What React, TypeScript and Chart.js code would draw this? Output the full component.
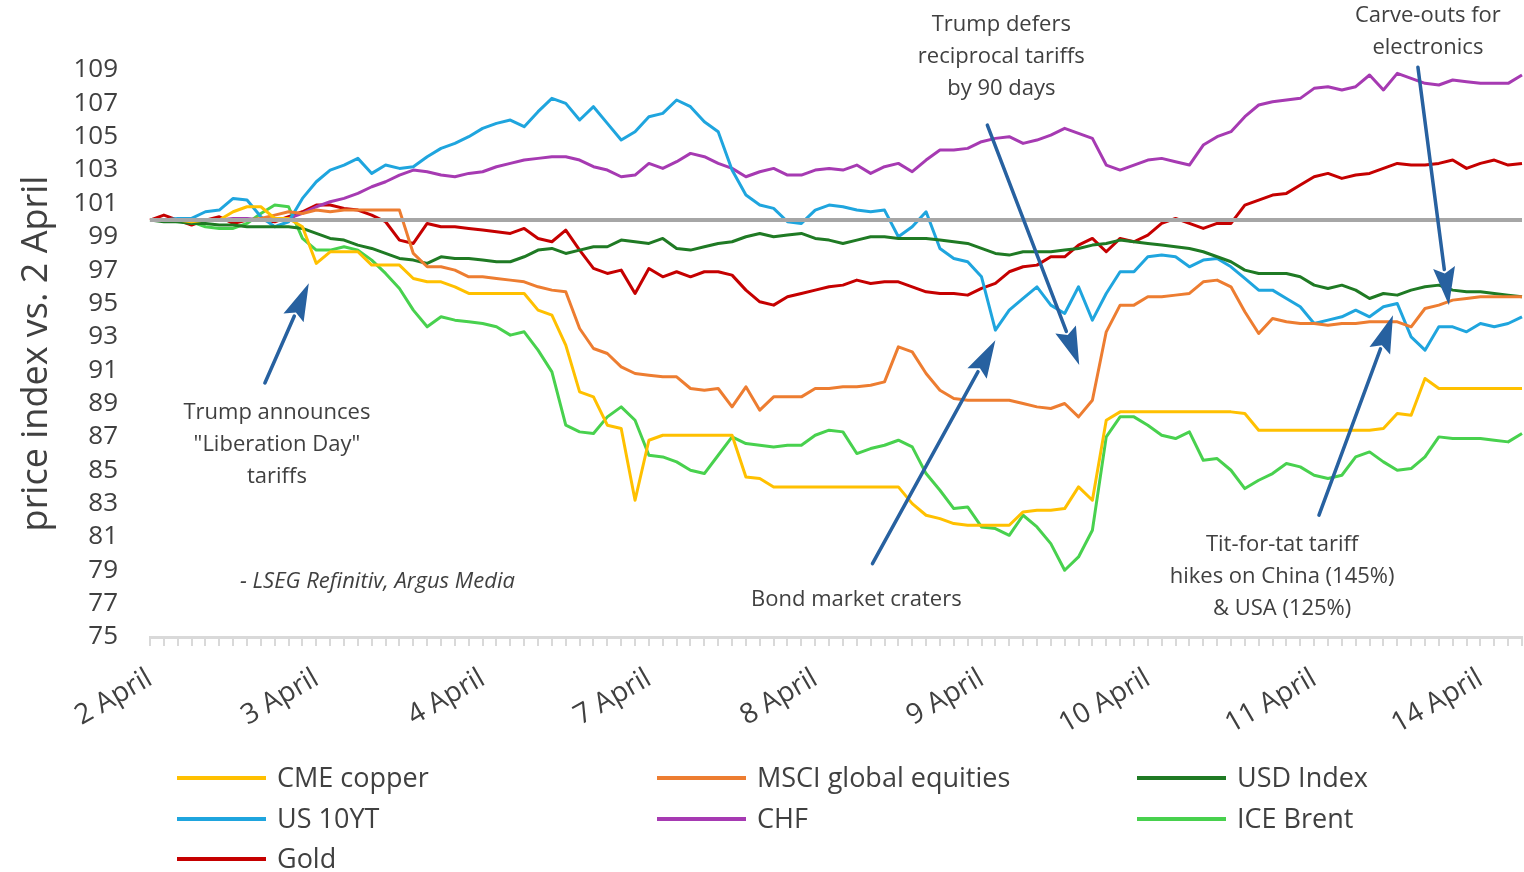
import React, { useEffect, useRef } from "react";
import { Chart, registerables } from "chart.js";

Chart.register(...registerables);

const FONT = '"Open Sans", "Noto Sans", sans-serif';
const TEXT_COLOR = "#404040";

// ---- categories ----
const DAY_LABELS = ["2 April", "3 April", "4 April", "7 April", "8 April", "9 April", "10 April", "11 April", "14 April"];
const POINTS_PER_DAY = 12;
const N_POINTS = 100;
const CATEGORIES: string[] = Array.from({ length: N_POINTS }, (_, i) =>
  i % POINTS_PER_DAY === 0 && DAY_LABELS[i / POINTS_PER_DAY] ? DAY_LABELS[i / POINTS_PER_DAY] : ""
);

// ---- series (price index vs. 2 April = 100) ----
const CME_COPPER = [
  100, 100, 100, 99.9, 100, 100, 100.5, 100.8, 100.8, 100.1, 100.1, 99.6,
  97.4, 98.1, 98.1, 98.1, 97.3, 97.3, 97.3, 96.5, 96.3, 96.3, 96.0, 95.6,
  95.6, 95.6, 95.6, 95.6, 94.6, 94.3, 92.5, 89.7, 89.4, 87.7, 87.5, 83.2,
  86.8, 87.1, 87.1, 87.1, 87.1, 87.1, 87.1, 84.6, 84.5, 84.0, 84.0, 84.0,
  84.0, 84.0, 84.0, 84.0, 84.0, 84.0, 84.0, 83.0, 82.3, 82.1, 81.8, 81.7,
  81.7, 81.7, 81.7, 82.5, 82.6, 82.6, 82.7, 84.0, 83.2, 88.0, 88.5, 88.5,
  88.5, 88.5, 88.5, 88.5, 88.5, 88.5, 88.5, 88.4, 87.4, 87.4, 87.4, 87.4,
  87.4, 87.4, 87.4, 87.4, 87.4, 87.5, 88.4, 88.3, 90.5, 89.9, 89.9, 89.9,
  89.9, 89.9, 89.9, 89.9,
];
const MSCI_EQUITIES = [
  100, 100, 100, 100, 100, 100, 100, 100, 100.1, 100.3, 100.5, 100.4,
  100.6, 100.5, 100.6, 100.6, 100.6, 100.6, 100.6, 98.0, 97.2, 97.2, 97.0, 96.6,
  96.6, 96.5, 96.4, 96.3, 96.0, 95.8, 95.7, 93.5, 92.3, 92.0, 91.2, 90.8,
  90.7, 90.6, 90.6, 89.9, 89.8, 89.9, 88.8, 90.0, 88.6, 89.4, 89.4, 89.4,
  89.9, 89.9, 90.0, 90.0, 90.1, 90.3, 92.4, 92.1, 90.8, 89.8, 89.3, 89.2,
  89.2, 89.2, 89.2, 89.0, 88.8, 88.7, 89.0, 88.2, 89.2, 93.3, 94.9, 94.9,
  95.4, 95.4, 95.5, 95.6, 96.3, 96.4, 96.0, 94.5, 93.2, 94.1, 93.9, 93.8,
  93.8, 93.7, 93.8, 93.8, 93.9, 93.9, 93.9, 93.6, 94.7, 94.9, 95.2, 95.3,
  95.4, 95.4, 95.4, 95.4,
];
const USD_INDEX = [
  100, 99.9, 99.9, 99.8, 99.8, 99.7, 99.7, 99.6, 99.6, 99.6, 99.6, 99.5,
  99.2, 98.9, 98.8, 98.5, 98.3, 98.0, 97.7, 97.6, 97.4, 97.8, 97.7, 97.7,
  97.6, 97.5, 97.5, 97.8, 98.2, 98.3, 98.0, 98.2, 98.4, 98.4, 98.8, 98.7,
  98.6, 98.9, 98.3, 98.2, 98.4, 98.6, 98.7, 99.0, 99.2, 99.0, 99.1, 99.2,
  98.9, 98.8, 98.6, 98.8, 99.0, 99.0, 98.9, 98.9, 98.9, 98.8, 98.7, 98.6,
  98.3, 98.0, 97.9, 98.1, 98.1, 98.1, 98.2, 98.3, 98.5, 98.6, 98.8, 98.7,
  98.6, 98.5, 98.4, 98.3, 98.1, 97.8, 97.5, 97.0, 96.8, 96.8, 96.8, 96.6,
  96.1, 95.9, 96.1, 95.8, 95.3, 95.6, 95.5, 95.8, 96.0, 96.1, 95.8, 95.7,
  95.7, 95.6, 95.5, 95.4,
];
const US_10YT = [
  100, 100, 100.1, 100.1, 100.5, 100.6, 101.3, 101.2, 100.2, 99.6, 99.9, 101.3,
  102.3, 103.0, 103.3, 103.7, 102.8, 103.3, 103.1, 103.2, 103.8, 104.3, 104.6, 105.0,
  105.5, 105.8, 106.0, 105.6, 106.5, 107.3, 107.0, 106.0, 106.8, 105.8, 104.8, 105.3,
  106.2, 106.4, 107.2, 106.8, 105.9, 105.3, 103.0, 101.5, 100.9, 100.7, 99.9, 99.8,
  100.6, 100.9, 100.8, 100.6, 100.5, 100.6, 99.0, 99.6, 100.5, 98.3, 97.7, 97.5,
  96.6, 93.4, 94.6, 95.3, 96.0, 94.9, 94.4, 96.0, 94.0, 95.6, 96.9, 96.9,
  97.8, 97.9, 97.8, 97.2, 97.6, 97.7, 97.2, 96.5, 95.8, 95.8, 95.3, 94.8,
  93.8, 94.0, 94.2, 94.6, 94.2, 94.8, 95.0, 93.0, 92.2, 93.6, 93.6, 93.3,
  93.8, 93.6, 93.8, 94.2,
];
const CHF = [
  100, 100, 100, 99.9, 100, 100, 100.1, 100.1, 100.0, 100.1, 100.1, 100.4,
  100.8, 101.1, 101.3, 101.6, 102.0, 102.3, 102.7, 103.0, 102.9, 102.7, 102.6, 102.8,
  102.9, 103.2, 103.4, 103.6, 103.7, 103.8, 103.8, 103.6, 103.2, 103.0, 102.6, 102.7,
  103.4, 103.1, 103.5, 104.0, 103.8, 103.4, 103.1, 102.6, 102.9, 103.1, 102.7, 102.7,
  103.0, 103.1, 103.0, 103.3, 102.8, 103.2, 103.4, 102.9, 103.6, 104.2, 104.2, 104.3,
  104.7, 104.9, 105.0, 104.6, 104.8, 105.1, 105.5, 105.2, 104.9, 103.3, 103.0, 103.3,
  103.6, 103.7, 103.5, 103.3, 104.5, 105.0, 105.3, 106.2, 106.9, 107.1, 107.2, 107.3,
  107.9, 108.0, 107.8, 108.0, 108.7, 107.8, 108.8, 108.5, 108.2, 108.1, 108.4, 108.3,
  108.2, 108.2, 108.2, 108.7,
];
const ICE_BRENT = [
  100, 100, 99.9, 99.9, 99.6, 99.5, 99.5, 99.8, 100.4, 100.9, 100.8, 98.9,
  98.2, 98.2, 98.4, 98.2, 97.6, 96.8, 95.9, 94.6, 93.6, 94.2, 94.0, 93.9,
  93.8, 93.6, 93.1, 93.3, 92.2, 90.9, 87.7, 87.3, 87.2, 88.2, 88.8, 88.0,
  85.9, 85.8, 85.5, 85.0, 84.8, 85.9, 87.0, 86.6, 86.5, 86.4, 86.5, 86.5,
  87.1, 87.4, 87.3, 86.0, 86.3, 86.5, 86.8, 86.4, 84.8, 83.8, 82.7, 82.8,
  81.6, 81.5, 81.1, 82.3, 81.6, 80.6, 79.0, 79.8, 81.4, 87.0, 88.2, 88.2,
  87.7, 87.1, 86.9, 87.3, 85.6, 85.7, 85.0, 83.9, 84.4, 84.8, 85.4, 85.2,
  84.7, 84.5, 84.7, 85.8, 86.1, 85.5, 85.0, 85.1, 85.8, 87.0, 86.9, 86.9,
  86.9, 86.8, 86.7, 87.2,
];
const GOLD = [
  100, 100.3, 100.0, 99.7, 100.0, 100.2, 99.8, 100.0, 100.0, 99.9, 100.2, 100.5,
  100.9, 100.9, 100.7, 100.6, 100.3, 99.9, 98.8, 98.6, 99.8, 99.6, 99.6, 99.5,
  99.4, 99.3, 99.2, 99.5, 98.9, 98.7, 99.4, 98.2, 97.1, 96.8, 97.0, 95.6,
  97.1, 96.6, 96.9, 96.6, 96.9, 96.9, 96.7, 95.8, 95.1, 94.9, 95.4, 95.6,
  95.8, 96.0, 96.1, 96.4, 96.2, 96.3, 96.3, 96.0, 95.7, 95.6, 95.6, 95.5,
  95.9, 96.2, 96.9, 97.2, 97.3, 97.8, 97.8, 98.5, 98.9, 98.1, 98.9, 98.7,
  99.1, 99.8, 100.1, 99.8, 99.5, 99.8, 99.8, 100.9, 101.2, 101.5, 101.6, 102.1,
  102.6, 102.8, 102.5, 102.7, 102.8, 103.1, 103.4, 103.3, 103.3, 103.4, 103.6, 103.1,
  103.4, 103.6, 103.3, 103.4,
];
const BASELINE_VALUE = 100;

const SERIES = [
  { label: "CME copper", data: CME_COPPER, color: "#FFC000" },
  { label: "MSCI global equities", data: MSCI_EQUITIES, color: "#ED7D31" },
  { label: "USD Index", data: USD_INDEX, color: "#1F7A24" },
  { label: "US 10YT", data: US_10YT, color: "#1FA5DE" },
  { label: "CHF", data: CHF, color: "#A63AB2" },
  { label: "ICE Brent", data: ICE_BRENT, color: "#48D14E" },
  { label: "Gold", data: GOLD, color: "#C50000" },
];

// ---- annotations (positions in data space: category index, index value) ----
const ANNOTATIONS = [
  { lines: ["Trump announces", '"Liberation Day"', "tariffs"], tx: 9.16, ty: 88.43, from: [8.29, 90.23], to: [11.46, 96.22] },
  { lines: ["Bond market craters"], tx: 50.97, ty: 77.22, from: [52.13, 79.4], to: [61.0, 92.8] },
  { lines: ["Trump defers", "reciprocal tariffs", "by 90 days"], tx: 61.43, ty: 111.69, from: [60.42, 105.7], to: [67.05, 91.31] },
  { lines: ["Tit-for-tat tariff", "hikes on China (145%)", "& USA (125%)"], tx: 81.69, ty: 80.52, from: [84.35, 82.31], to: [89.69, 94.3] },
  { lines: ["Carve-outs for", "electronics"], tx: 92.21, ty: 112.23, from: [91.49, 109.17], to: [93.73, 94.9] },
];
const SOURCE_NOTE = { text: "- LSEG Refinitiv, Argus Media", tx: 6.49, ty: 78.3 };
const ARROW_COLOR = "#2761A0";

function drawArrow(ctx: CanvasRenderingContext2D, x1: number, y1: number, x2: number, y2: number) {
  const ang = Math.atan2(y2 - y1, x2 - x1);
  const headLen = 38;
  const headW = 11;
  const bx = x2 - headLen * Math.cos(ang);
  const by = y2 - headLen * Math.sin(ang);
  ctx.beginPath();
  ctx.moveTo(x1, y1);
  ctx.lineTo(bx + 2 * Math.cos(ang), by + 2 * Math.sin(ang));
  ctx.stroke();
  ctx.beginPath();
  ctx.moveTo(x2, y2);
  ctx.lineTo(bx + headW * Math.sin(ang), by - headW * Math.cos(ang));
  ctx.lineTo(bx + 6 * Math.cos(ang), by + 6 * Math.sin(ang));
  ctx.lineTo(bx - headW * Math.sin(ang), by + headW * Math.cos(ang));
  ctx.closePath();
  ctx.fill();
}

const annotationPlugin = {
  id: "annotations",
  afterDatasetsDraw(chart: any) {
    const { ctx, scales } = chart;
    const xs = scales.x;
    const ys = scales.y;
    ctx.save();
    ctx.strokeStyle = ARROW_COLOR;
    ctx.fillStyle = ARROW_COLOR;
    ctx.lineWidth = 3.5;
    ctx.lineCap = "round";
    for (const a of ANNOTATIONS) {
      drawArrow(
        ctx,
        xs.getPixelForValue(a.from[0]),
        ys.getPixelForValue(a.from[1]),
        xs.getPixelForValue(a.to[0]),
        ys.getPixelForValue(a.to[1])
      );
    }
    ctx.fillStyle = TEXT_COLOR;
    ctx.textAlign = "center";
    ctx.textBaseline = "middle";
    ctx.font = `22px ${FONT}`;
    for (const a of ANNOTATIONS) {
      const cx = xs.getPixelForValue(a.tx);
      const cy = ys.getPixelForValue(a.ty);
      a.lines.forEach((line, k) => ctx.fillText(line, cx, cy + k * 32));
    }
    ctx.font = `italic 22px ${FONT}`;
    ctx.textAlign = "left";
    ctx.fillText(SOURCE_NOTE.text, xs.getPixelForValue(SOURCE_NOTE.tx), ys.getPixelForValue(SOURCE_NOTE.ty));
    ctx.restore();
  },
};

const LEGEND_COLUMNS_X = [177, 657, 1137];
const LEGEND_ROWS_Y = [778, 819, 859];
const LEGEND_LINE_LEN = 89;

const gridLegendPlugin = {
  id: "gridLegend",
  afterDraw(chart: any) {
    const { ctx } = chart;
    const items = chart.data.datasets.filter((d: any) => d.label);
    ctx.save();
    ctx.font = `27px ${FONT}`;
    ctx.textBaseline = "middle";
    ctx.textAlign = "left";
    items.forEach((d: any, i: number) => {
      const col = i % 3;
      const row = Math.floor(i / 3);
      const x = LEGEND_COLUMNS_X[col];
      const y = LEGEND_ROWS_Y[row];
      ctx.strokeStyle = d.borderColor;
      ctx.lineWidth = 4;
      ctx.beginPath();
      ctx.moveTo(x, y);
      ctx.lineTo(x + LEGEND_LINE_LEN, y);
      ctx.stroke();
      ctx.fillStyle = TEXT_COLOR;
      ctx.fillText(d.label, x + LEGEND_LINE_LEN + 11, y + 1);
    });
    ctx.restore();
  },
};

export default function App() {
  const canvasRef = useRef<HTMLCanvasElement | null>(null);

  useEffect(() => {
    document.body.style.margin = "0";
    document.body.style.overflow = "hidden";
    const canvas = canvasRef.current;
    if (!canvas) return;

    const datasets: any[] = [
      {
        label: "",
        data: CATEGORIES.map(() => BASELINE_VALUE),
        borderColor: "#A6A6A6",
        borderWidth: 4,
        pointRadius: 0,
        tension: 0,
      },
      ...SERIES.map((s) => ({
        label: s.label,
        data: s.data,
        borderColor: s.color,
        backgroundColor: s.color,
        borderWidth: 3,
        pointRadius: 0,
        tension: 0,
        borderJoinStyle: "round",
        fill: false,
      })),
    ];

    const chart = new Chart(canvas, {
      type: "line",
      data: { labels: CATEGORIES, datasets },
      options: {
        responsive: false,
        animation: false,
        devicePixelRatio: 1,
        events: [],
        layout: { padding: { top: 70, left: 0, right: 2, bottom: 0 } },
        plugins: {
          legend: { display: false },
          tooltip: { enabled: false },
          title: { display: false },
        },
        scales: {
          x: {
            type: "category",
            ticks: {
              autoSkip: false,
              maxRotation: 30,
              minRotation: 30,
              padding: 16,
              color: TEXT_COLOR,
              font: { family: FONT, size: 28 },
            },
            grid: {
              display: true,
              drawOnChartArea: false,
              drawTicks: true,
              tickLength: 9,
              color: "#D9D9D9",
              lineWidth: 2,
            },
            border: { display: true, color: "#D9D9D9", width: 3 },
            afterFit(scale: any) {
              scale.height = 235;
              scale.paddingRight = 0;
            },
          },
          y: {
            min: 75,
            max: 109,
            ticks: {
              stepSize: 2,
              autoSkip: false,
              padding: 32,
              color: TEXT_COLOR,
              font: { family: FONT, size: 26 },
            },
            grid: { display: false, drawTicks: false },
            border: { display: false },
            title: {
              display: true,
              text: "price index vs. 2 April",
              color: TEXT_COLOR,
              font: { family: FONT, size: 36 },
              padding: { top: 15, bottom: 0 },
            },
            afterFit(scale: any) {
              scale.width = 150;
            },
          },
        },
      } as any,
      plugins: [annotationPlugin, gridLegendPlugin],
    });

    return () => {
      chart.destroy();
    };
  }, []);

  return (
    <div style={{ width: 1524, height: 872, position: "relative", background: "#fff" }}>
      <canvas ref={canvasRef} width={1524} height={872} style={{ display: "block" }} />
    </div>
  );
}
